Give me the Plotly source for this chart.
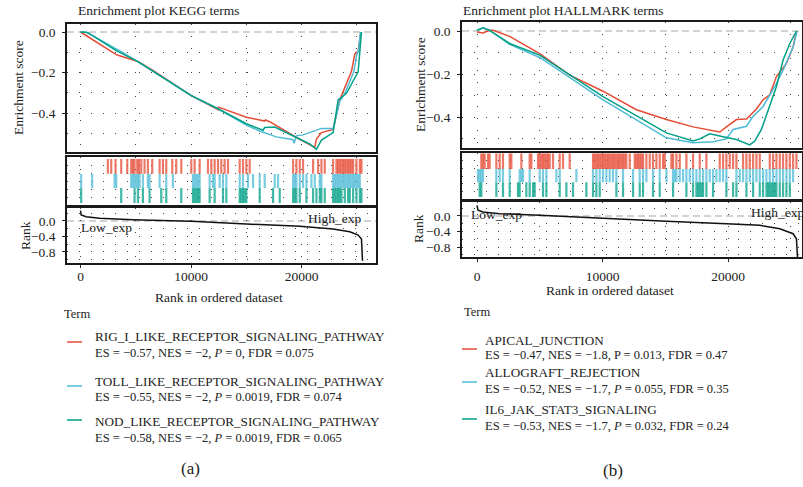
import plotly.graph_objects as go

W, H = 803, 487
FONT = "Liberation Serif"
RED, BLUE, GREEN = "#E64B35", "#4DBBD5", "#00A087"
RUG_RED, RUG_BLUE, RUG_GREEN = "rgba(230,75,53,0.75)", "rgba(77,187,213,0.75)", "rgba(0,160,135,0.75)"

# ---------------- KEGG gene sets ----------------
kegg_terms = ["RIG_I_LIKE_RECEPTOR_SIGNALING_PATHWAY",
              "TOLL_LIKE_RECEPTOR_SIGNALING_PATHWAY",
              "NOD_LIKE_RECEPTOR_SIGNALING_PATHWAY"]
kegg_stats = ["ES = −0.57, NES = −2, <i>P</i> = 0, FDR = 0.075",
              "ES = −0.55, NES = −2, <i>P</i> = 0.0019, FDR = 0.074",
              "ES = −0.58, NES = −2, <i>P</i> = 0.0019, FDR = 0.065"]

kegg_rig_rank = [0, 3231, 3533, 5194, 6553, 10026, 12442, 12503, 15009, 16670, 16731, 17123,
                 19539, 21200, 21351, 21804, 22861, 23465, 24522, 24824, 25126, 25368]
kegg_rig_es = [0, -0.112, -0.117, -0.146, -0.189, -0.314, -0.383, -0.371, -0.421, -0.440, -0.434, -0.443,
               -0.521, -0.570, -0.529, -0.497, -0.481, -0.335, -0.194, -0.108, -0.097, 0]

kegg_toll_rank = [0, 513, 3231, 3684, 5194, 10026, 12442, 15009, 16217, 17727, 19237, 19328,
                  19539, 20143, 21804, 22861, 23465, 23918, 24733, 24975, 25160, 25338]
kegg_toll_es = [0, 0, -0.084, -0.097, -0.146, -0.314, -0.379, -0.460, -0.489, -0.518, -0.532, -0.550,
                -0.513, -0.508, -0.476, -0.476, -0.343, -0.303, -0.197, -0.117, -0.092, 0]

kegg_nod_rank = [0, 664, 3231, 5194, 10026, 12442, 15009, 16520, 16670, 17576, 19539, 20747,
                 21351, 21804, 22861, 23314, 24069, 25126, 25428]
kegg_nod_es = [0, -0.003, -0.092, -0.146, -0.314, -0.379, -0.453, -0.485, -0.472, -0.469, -0.521, -0.553,
               -0.580, -0.534, -0.497, -0.335, -0.303, -0.197, 0]

kegg_rig_hits = [2476, 2778, 3171, 3684, 4228, 4590, 4741, 4892, 5134, 5285, 5496, 5798, 6100, 6493,
                 7157, 7459, 7761, 8305, 8667, 9120, 10026, 10328, 10781, 11536, 11838, 12140, 12442,
                 12744, 13046, 13348, 14405, 14707, 15009, 15311, 19237, 19539, 19841, 20143, 21049,
                 21502, 21804, 22106, 22861, 23163, 23314, 23465, 23616, 23767, 23918, 24069, 24220,
                 24371, 24522, 24673, 24975, 25277, 25428]
kegg_toll_hits = [60, 1057, 3080, 3231, 4590, 4741, 4892, 5043, 5194, 5345, 5647, 6100, 6251, 7157,
                  7761, 8365, 10177, 10328, 10479, 10630, 10781, 11687, 11989, 12140, 12593, 12895,
                  13197, 14405, 14707, 15160, 15613, 16217, 16670, 17576, 17878, 19237, 19388, 19539,
                  19841, 20143, 20445, 20898, 21200, 21653, 21804, 22861, 23012, 23163, 23314, 23465,
                  23616, 23767, 23918, 24069, 24220, 24371, 24522, 24673, 24824, 24975, 25126, 25277]
kegg_nod_hits = [60, 3684, 4892, 5194, 5647, 6251, 7308, 7761, 9120, 10177, 10328, 10479, 10630,
                 10781, 11687, 12140, 12895, 13197, 14405, 14556, 14707, 14858, 15009, 16217, 17425,
                 18029, 19237, 19388, 19539, 19841, 20445, 21049, 21351, 21653, 21804, 22106, 22861,
                 23012, 23163, 23314, 23465, 23616, 23918, 24220, 24371, 24673, 24975, 25277, 25428]

kegg_metric_rank = [0, 60, 513, 1721, 4741, 10026, 15009, 19841, 22861, 24371, 25126, 25428, 25519]
kegg_metric = [0.27, 0.155, 0.112, 0.069, 0.034, -0.009, -0.078, -0.138, -0.207, -0.276, -0.362, -0.466, -1.026]

# ---------------- HALLMARK gene sets ----------------
hall_terms = ["APICAL_JUNCTION", "ALLOGRAFT_REJECTION", "IL6_JAK_STAT3_SIGNALING"]
hall_stats = ["ES = −0.47, NES = −1.8, P = 0.013, FDR = 0.47",
              "ES = −0.52, NES = −1.7, <i>P</i> = 0.055, FDR = 0.35",
              "ES = −0.53, NES = −1.7, <i>P</i> = 0.032, FDR = 0.24"]

hall_apical_rank = [0, 478, 1010, 1275, 2604, 4995, 7386, 10043, 12700, 15092, 17217, 19343, 19874,
                    20671, 21469, 22266, 22797, 23328, 23860, 24657, 25188, 25454]
hall_apical_es = [-0.005, -0.009, 0.003, 0.003, -0.025, -0.105, -0.205, -0.280, -0.366, -0.412, -0.446,
                  -0.470, -0.446, -0.412, -0.409, -0.363, -0.320, -0.297, -0.212, -0.151, -0.074, 0]

hall_allo_rank = [0, 478, 1010, 2604, 4995, 10043, 15092, 17217, 18811, 19874, 20406, 21469, 22000,
                  22797, 23727, 24391, 25188, 25507]
hall_allo_es = [0.003, 0.015, 0.003, -0.062, -0.123, -0.320, -0.497, -0.520, -0.515, -0.502, -0.458,
                -0.443, -0.397, -0.351, -0.258, -0.182, -0.074, 0]

hall_il6_rank = [0, 478, 1010, 2604, 4995, 10043, 15092, 17217, 17748, 18546, 19608, 20671, 21734,
                 22133, 22664, 23328, 23860, 24391, 24923, 25454]
hall_il6_es = [0.003, 0.015, 0.003, -0.058, -0.112, -0.305, -0.474, -0.512, -0.502, -0.478, -0.492,
               -0.505, -0.530, -0.512, -0.458, -0.351, -0.258, -0.135, -0.058, 0]

hall_apical_hits = [345, 478, 611, 877, 1010, 1541, 1807, 2072, 2604, 2737, 3534, 4198, 4331, 4862,
                    4995, 5128, 5261, 5394, 5527, 5659, 5792, 6058, 6589, 6855, 7386, 9246, 9379, 9512,
                    9645, 9778, 9911, 10043, 10176, 10309, 10442, 10575, 10708, 10840, 10973, 11106,
                    11239, 11372, 11505, 11637, 11770, 11903, 12169, 12568, 12700, 12833, 12966, 13099,
                    13232, 13498, 13763, 14029, 14295, 14560, 14826, 14959, 15490, 15623, 15889, 16155,
                    16686, 17217, 17748, 18280, 19343, 19608, 19874, 20140, 20406, 20671, 21203, 21469,
                    21734, 22000, 22266, 22531, 23328, 23594, 23860, 24126, 24391, 24657, 24923, 25188,
                    25454]
hall_allo_hits = [80, 213, 345, 478, 1541, 1807, 2072, 2604, 3401, 3534, 3667, 4198, 4995, 5261, 5527,
                  6324, 6589, 7918, 9246, 9512, 9778, 10043, 10309, 10575, 10840, 11106, 11637, 12435,
                  12966, 13232, 13498, 14029, 14560, 15092, 15623, 15756, 15889, 16155, 16420, 16686,
                  16952, 17217, 17483, 17748, 18014, 18280, 18546, 18811, 19077, 19343, 19608, 19874,
                  20671, 20937, 21203, 21469, 21734, 22000, 22266, 22531, 22797, 23063, 23328, 23594,
                  23860, 24126, 24391, 24657, 24923, 25188]
hall_il6_hits = [213, 345, 1541, 2072, 2604, 3268, 3401, 3932, 4198, 4464, 4597, 5261, 5527, 6589,
                 7121, 7652, 8715, 9246, 9512, 9778, 11106, 11637, 12435, 12966, 13232, 14029, 14560,
                 15623, 16686, 17217, 17483, 17616, 17748, 17881, 18014, 18280, 18811, 19874, 20406,
                 20671, 21469, 22000, 22531, 22797, 23063, 23196, 23328, 23461, 23594, 23727, 23860,
                 24126, 24391, 24657, 24923]

hall_metric_rank = [0, 80, 478, 1807, 4995, 10043, 15092, 19874, 22531, 24126, 25188, 25454, 25534]
hall_metric = [0.276, 0.147, 0.103, 0.06, 0.017, -0.069, -0.138, -0.198, -0.241, -0.328, -0.457, -0.586, -1.06]

x_ticks = [0, 10000, 20000]
x_grid = [0, 5000, 10000, 15000, 20000, 25000]
es_ticks = [0, -0.2, -0.4]
es_grid = [-0.1, -0.2, -0.3, -0.4, -0.5]
metric_ticks = [0, -0.4, -0.8]
metric_grid = [0.2, -0.2, -0.4, -0.6, -0.8, -1.0]
rug_grid = [0.5, 1.0, 1.5, 2.0, 2.5]


def minus(v, fmt):
    return fmt.format(v).replace("-", "−")


def fx(px):
    return px / W


def fy(py):
    return 1 - py / H


GRID = dict(showgrid=True, gridcolor="rgba(20,20,20,0.8)", gridwidth=1.4, griddash="1.4px,10.6px")
BOX = dict(showline=True, mirror=True, linecolor="#1a1a1a", linewidth=1.6, zeroline=False)
TICKFONT = dict(family=FONT, size=13.5, color="#222")
TXT = dict(family=FONT, size=13.5, color="#222")

panels = [
    dict(title="Enrichment plot KEGG terms", title_x=76, title_y=11,
         x0=67, x1=376, top=(24, 152), rug=(157, 205), rank=(208, 263),
         xr=[-1222, 26742], esr=[-0.5926, 0.0395], rkr=[-1.084, 0.335], xlab_standoff=-3,
         curves=[(kegg_rig_rank, kegg_rig_es, RED), (kegg_toll_rank, kegg_toll_es, BLUE),
                 (kegg_nod_rank, kegg_nod_es, GREEN)],
         hits=[(kegg_rig_hits, RUG_RED, 1.95, 2.88), (kegg_toll_hits, RUG_BLUE, 1.06, 1.94),
               (kegg_nod_hits, RUG_GREEN, 0.12, 1.06)],
         metric=(kegg_metric_rank, kegg_metric),
         low=(-136, -0.18), high=(25570, 0.077), high_anchor="right",
         es_title=(18, 88), rank_title=(25, 236), xtitle=(219, 297),
         terms=kegg_terms, stats=kegg_stats, term_xy=(62, 314),
         leg_line_x=(67, 82), leg_text_x=93, leg_rows=[(336, 353, 342), (381, 397, 386), (421, 438, 420)],
         tag="(a)", tag_xy=(190, 468)),
    dict(title="Enrichment plot HALLMARK terms", title_x=461, title_y=11,
         x0=462, x1=801.5, top=(22, 148), rug=(153, 199), rank=(202, 257),
         xr=[-1195, 25857], esr=[-0.5442, 0.0419], rkr=[-1.058, 0.361], xlab_standoff=3,
         curves=[(hall_apical_rank, hall_apical_es, RED), (hall_allo_rank, hall_allo_es, BLUE),
                 (hall_il6_rank, hall_il6_es, GREEN)],
         hits=[(hall_apical_hits, RUG_RED, 1.95, 2.97), (hall_allo_hits, RUG_BLUE, 1.1, 1.95),
               (hall_il6_hits, RUG_GREEN, 0.13, 1.1)],
         metric=(hall_metric_rank, hall_metric),
         low=(-637, 0.026), high=(21650, 0.10), high_anchor="left",
         es_title=(421, 85), rank_title=(418, 229), xtitle=(610, 290),
         terms=hall_terms, stats=hall_stats, term_xy=(462, 312),
         leg_line_x=(462, 477), leg_text_x=483, leg_rows=[(340, 355, 349), (372, 389, 382), (409, 426, 419)],
         tag="(b)", tag_xy=(613, 470)),
]

fig = go.Figure()
layout = dict(width=W, height=H, margin=dict(l=0, r=0, t=0, b=0),
              paper_bgcolor="white", plot_bgcolor="white", showlegend=False,
              font=dict(family=FONT, size=13, color="#222"))
annotations, shapes = [], []


def note(text, px, py, size=13.5, xanchor="center", angle=0):
    annotations.append(dict(text=text, x=fx(px), y=fy(py), xref="paper", yref="paper",
                            xanchor=xanchor, yanchor="middle", textangle=angle, showarrow=False,
                            font=dict(family=FONT, size=size, color="#222")))


for i, p in enumerate(panels):
    ids = [3 * i + 1, 3 * i + 2, 3 * i + 3]
    xn = [f"x{k}" if k > 1 else "x" for k in ids]
    yn = [f"y{k}" if k > 1 else "y" for k in ids]
    xdom = [fx(p["x0"]), fx(p["x1"])]

    # running enrichment score
    for rk, es, col in p["curves"]:
        fig.add_trace(go.Scatter(x=rk, y=es, mode="lines", line=dict(color=col, width=1.5),
                                 xaxis=xn[0], yaxis=yn[0], hoverinfo="skip"))
    # gene set members along the ranked list
    for hits, col, lo, hi in p["hits"]:
        xs, ys = [], []
        for h in hits:
            xs += [h, h, None]
            ys += [lo, hi, None]
        fig.add_trace(go.Scatter(x=xs, y=ys, mode="lines", line=dict(color=col, width=2.2),
                                 xaxis=xn[1], yaxis=yn[1], hoverinfo="skip"))
    # ranked list metric
    mr, mv = p["metric"]
    fig.add_trace(go.Scatter(x=mr, y=mv, mode="lines", line=dict(color="#111", width=1.5),
                             xaxis=xn[2], yaxis=yn[2], hoverinfo="skip"))

    xminor = dict(tickmode="array", tickvals=x_grid, ticks="", **GRID)
    for j, (rows, showlab) in enumerate([(p["top"], False), (p["rug"], False), (p["rank"], True)]):
        key_x = "xaxis" if ids[j] == 1 else f"xaxis{ids[j]}"
        key_y = "yaxis" if ids[j] == 1 else f"yaxis{ids[j]}"
        xa = dict(domain=xdom, range=p["xr"], anchor=yn[j], showgrid=False, minor=xminor, **BOX)
        if showlab:
            xa.update(tickmode="array", tickvals=x_ticks, ticktext=[str(v) for v in x_ticks],
                      ticks="outside", ticklen=3, tickcolor="#222", tickfont=TICKFONT,
                      ticklabelstandoff=p["xlab_standoff"])
        else:
            xa.update(showticklabels=False, ticks="")
        layout[key_x] = xa
        ya = dict(domain=[fy(rows[1]), fy(rows[0])], anchor=xn[j], showgrid=False, **BOX)
        if j == 0:
            ya.update(range=p["esr"], tickmode="array", tickvals=es_ticks,
                      ticktext=[minus(v, "{:.1f}") for v in es_ticks], ticks="outside",
                      ticklen=3, tickcolor="#222", tickfont=TICKFONT, ticklabelstandoff=4,
                      minor=dict(tickmode="array", tickvals=es_grid, ticks="", **GRID))
        elif j == 1:
            ya.update(range=[0, 3], showticklabels=False, ticks="",
                      minor=dict(tickmode="array", tickvals=rug_grid, ticks="", **GRID))
        else:
            ya.update(range=p["rkr"], tickmode="array", tickvals=metric_ticks,
                      ticktext=[minus(v, "{:.1f}") for v in metric_ticks], ticks="outside",
                      ticklen=3, tickcolor="#222", tickfont=TICKFONT, ticklabelstandoff=4,
                      minor=dict(tickmode="array", tickvals=metric_grid, ticks="", **GRID))
        layout[key_y] = ya

    # zero reference lines
    for j in (0, 2):
        shapes.append(dict(type="line", xref=f"{xn[j]} domain", yref=yn[j], x0=0, x1=1, y0=0, y1=0,
                           line=dict(color="#c4c4c4", width=1.5, dash="7px,4px"), layer="below"))

    note(p["title"], p["title_x"], p["title_y"], xanchor="left")
    note("Enrichment score", *p["es_title"], angle=-90)
    note("Rank", *p["rank_title"], angle=-90)
    note("Rank in ordered dataset", *p["xtitle"])
    annotations.append(dict(text="Low_exp", x=p["low"][0], y=p["low"][1], xref=xn[2], yref=yn[2],
                            xanchor="left", yanchor="middle", showarrow=False, font=TXT))
    annotations.append(dict(text="High_exp", x=p["high"][0], y=p["high"][1], xref=xn[2], yref=yn[2],
                            xanchor=p["high_anchor"], yanchor="middle", showarrow=False, font=TXT))

    # term legend
    note("Term", *p["term_xy"], size=12.5, xanchor="left")
    for (ty, sy, ly), term, stat, (_, _, col) in zip(p["leg_rows"], p["terms"], p["stats"], p["curves"]):
        shapes.append(dict(type="line", xref="paper", yref="paper", x0=fx(p["leg_line_x"][0]),
                           x1=fx(p["leg_line_x"][1]), y0=fy(ly), y1=fy(ly), line=dict(color=col, width=1.5)))
        note(term, p["leg_text_x"], ty, size=13.2, xanchor="left")
        note(stat, p["leg_text_x"], sy, size=12.5, xanchor="left")
    note(p["tag"], *p["tag_xy"], size=17)

layout["annotations"] = annotations
layout["shapes"] = shapes
fig.update_layout(**layout)
fig.write_html("out.html")
